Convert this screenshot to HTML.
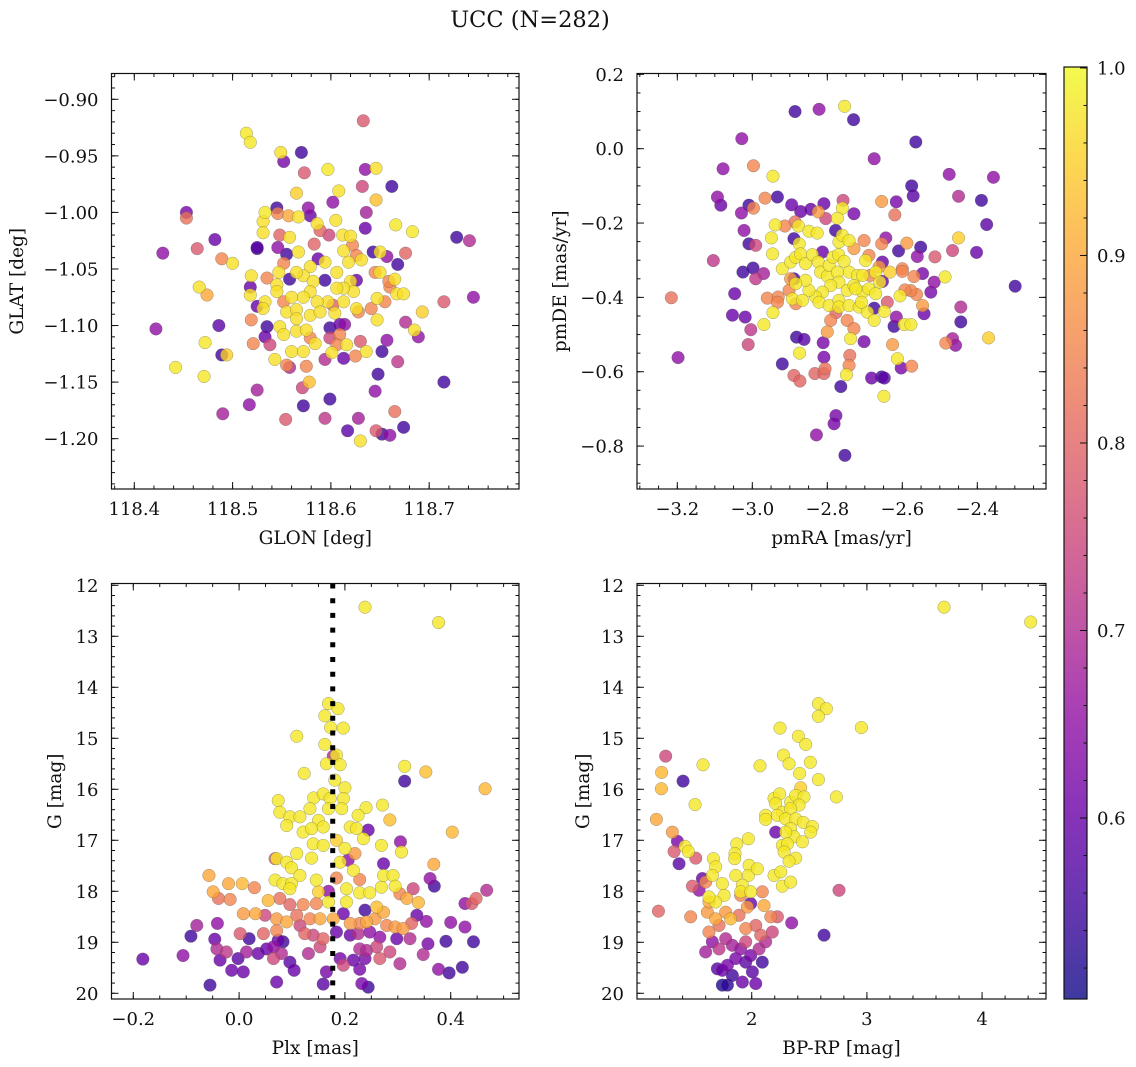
<!DOCTYPE html>
<html><head><meta charset="utf-8">
<style>
html,body{margin:0;padding:0;background:#fff;}
svg{display:block;font-family:"DejaVu Serif","Liberation Serif",serif;}
</style></head>
<body>
<svg id="chart" width="1136" height="1067" viewBox="0 0 1136 1067" xmlns="http://www.w3.org/2000/svg">
<rect width="1136" height="1067" fill="#fff"/>
<text x="530" y="27" text-anchor="middle" font-size="22.5" fill="#111">UCC (N=282)</text>
</svg>
<script>
// ---------------- data ----------------
// [GLON, GLAT, prob]
const posTL = [[118.633,-0.919,.78],[118.514,-0.930,.98],[118.518,-0.938,.98],[118.549,-0.947,.97],[118.570,-0.947,.55],[118.552,-0.955,.62],[118.573,-0.965,.78],[118.597,-0.962,.98],[118.635,-0.962,.65],[118.646,-0.961,.97],[118.632,-0.977,.75],[118.662,-0.977,.55],[118.565,-0.983,.95],[118.608,-0.981,.97],[118.602,-0.991,.65],[118.646,-0.989,.93],[118.453,-1.000,.62],[118.453,-1.005,.82],[118.545,-0.996,.55],[118.577,-0.996,.65],[118.636,-1.000,.68],[118.635,-1.014,.6],[118.666,-1.011,.98],[118.683,-1.017,.98],[118.728,-1.022,.55],[118.741,-1.025,.7],[118.429,-1.036,.65],[118.464,-1.032,.78],[118.482,-1.024,.6],[118.489,-1.041,.85],[118.500,-1.045,.97],[118.525,-1.031,.58],[118.466,-1.066,.97],[118.474,-1.073,.9],[118.422,-1.103,.65],[118.486,-1.100,.58],[118.472,-1.115,.98],[118.489,-1.126,.55],[118.494,-1.126,.95],[118.442,-1.137,.98],[118.471,-1.145,.98],[118.525,-1.157,.68],[118.517,-1.170,.65],[118.490,-1.178,.68],[118.554,-1.183,.78],[118.572,-1.171,.55],[118.599,-1.165,.55],[118.594,-1.182,.72],[118.571,-1.155,.75],[118.578,-1.150,.93],[118.628,-1.182,.68],[118.617,-1.193,.58],[118.630,-1.202,.97],[118.646,-1.193,.78],[118.652,-1.196,.55],[118.660,-1.197,.65],[118.674,-1.190,.55],[118.665,-1.176,.82],[118.645,-1.158,.65],[118.648,-1.143,.55],[118.715,-1.150,.55],[118.668,-1.132,.72],[118.652,-1.123,.55],[118.657,-1.113,.65],[118.715,-1.079,.78],[118.745,-1.075,.65],[118.693,-1.088,.95],[118.676,-1.097,.7],[118.685,-1.104,.97],[118.689,-1.110,.65],[118.676,-1.036,.8],[118.668,-1.046,.55],[118.657,-1.039,.65],
[118.533,-1.000,.98],[118.531,-1.008,.97],[118.546,-1.001,.85],[118.557,-1.003,.9],[118.567,-1.004,.97],[118.579,-1.003,.6],[118.586,-1.010,.97],[118.589,-1.016,.8],[118.598,-1.020,.75],[118.605,-1.007,.97],[118.612,-1.020,.97],[118.620,-1.021,.97],[118.622,-1.029,.85],[118.583,-1.028,.8],[118.567,-1.035,.97],[118.558,-1.022,.97],[118.548,-1.020,.8],[118.546,-1.031,.65],[118.555,-1.037,.55],[118.531,-1.018,.97],[118.525,-1.032,.55],[118.587,-1.041,.6],[118.594,-1.044,.97],[118.579,-1.048,.97],[118.572,-1.056,.97],[118.552,-1.045,.85],[118.547,-1.053,.97],[118.535,-1.058,.85],[118.519,-1.056,.97],[118.518,-1.066,.6],[118.518,-1.073,.97],[118.533,-1.079,.97],[118.531,-1.085,.97],[118.525,-1.083,.6],[118.545,-1.064,.97],[118.558,-1.059,.55],[118.565,-1.053,.97],[118.582,-1.061,.97],[118.594,-1.060,.55],[118.606,-1.053,.97],[118.618,-1.044,.97],[118.613,-1.034,.97],[118.626,-1.038,.85],[118.631,-1.042,.97],[118.643,-1.035,.55],[118.650,-1.035,.97],[118.650,-1.053,.97],[118.645,-1.053,.85],[118.626,-1.060,.6],[118.620,-1.061,.97],[118.623,-1.070,.97],[118.613,-1.067,.97],[118.606,-1.067,.97],[118.597,-1.079,.97],[118.586,-1.079,.97],[118.579,-1.070,.97],[118.572,-1.075,.97],[118.560,-1.075,.97],[118.552,-1.079,.85],[118.545,-1.070,.97],[118.555,-1.088,.97],[118.565,-1.086,.97],[118.565,-1.094,.97],[118.579,-1.091,.97],[118.589,-1.088,.97],[118.602,-1.082,.8],[118.604,-1.089,.97],[118.613,-1.079,.97],[118.626,-1.085,.97],[118.628,-1.088,.85],[118.641,-1.085,.85],[118.647,-1.095,.97],[118.647,-1.076,.97],[118.655,-1.079,.85],[118.660,-1.066,.85],[118.665,-1.059,.97],[118.667,-1.072,.97],[118.674,-1.072,.97],[118.659,-1.061,.85],[118.519,-1.095,.85],[118.535,-1.101,.55],[118.533,-1.110,.6],[118.521,-1.116,.85],[118.538,-1.117,.75],[118.548,-1.101,.97],[118.552,-1.108,.97],[118.565,-1.105,.97],[118.575,-1.104,.97],[118.579,-1.111,.85],[118.584,-1.116,.97],[118.599,-1.102,.55],[118.599,-1.111,.75],[118.609,-1.099,.6],[118.614,-1.099,.65],[118.609,-1.108,.85],[118.606,-1.117,.85],[118.616,-1.117,.97],[118.601,-1.124,.97],[118.613,-1.129,.6],[118.625,-1.127,.85],[118.630,-1.114,.78],[118.636,-1.123,.97],[118.560,-1.123,.97],[118.572,-1.123,.97],[118.543,-1.130,.97],[118.555,-1.135,.85],[118.558,-1.137,.7],[118.575,-1.136,.85],[118.594,-1.130,.7]];

// [pmRA, pmDE, prob]
const pmTR = [[-2.886,0.100,.55],[-2.822,0.106,.65],[-2.754,0.114,.98],[-2.730,0.078,.55],[-3.028,0.027,.65],[-2.564,0.018,.55],[-2.675,-0.027,.65],[-3.078,-0.054,.65],[-2.997,-0.046,.85],[-2.945,-0.074,.98],[-2.475,-0.069,.65],[-2.357,-0.077,.65],[-3.093,-0.130,.65],[-3.084,-0.152,.6],[-2.966,-0.133,.85],[-2.933,-0.130,.55],[-2.575,-0.100,.55],[-2.571,-0.127,.58],[-2.450,-0.128,.7],[-2.389,-0.139,.55],[-2.655,-0.142,.88],[-2.616,-0.143,.62],[-2.620,-0.178,.82],[-3.029,-0.173,.65],[-3.009,-0.152,.55],[-2.997,-0.160,.85],[-3.022,-0.220,.65],[-2.375,-0.204,.58],[-3.009,-0.256,.55],[-2.991,-0.260,.75],[-2.402,-0.279,.6],[-2.450,-0.240,.95],[-2.466,-0.274,.75],[-3.104,-0.301,.72],[-3.025,-0.332,.55],[-2.998,-0.321,.55],[-2.991,-0.350,.72],[-2.970,-0.336,.68],[-3.047,-0.390,.6],[-3.216,-0.401,.82],[-3.053,-0.448,.6],[-3.019,-0.453,.6],[-3.004,-0.487,.72],[-3.011,-0.527,.75],[-3.198,-0.562,.65],[-2.969,-0.473,.98],[-2.945,-0.441,.98],[-2.960,-0.402,.85],[-2.931,-0.399,.85],[-2.933,-0.413,.85],[-2.920,-0.579,.55],[-2.882,-0.507,.55],[-2.862,-0.513,.58],[-2.874,-0.550,.98],[-2.889,-0.610,.8],[-2.873,-0.625,.8],[-2.833,-0.605,.8],[-2.809,-0.605,.8],[-2.806,-0.592,.82],[-2.811,-0.522,.62],[-2.809,-0.561,.62],[-2.749,-0.608,.98],[-2.742,-0.583,.85],[-2.740,-0.556,.82],[-2.764,-0.640,.55],[-2.777,-0.718,.62],[-2.782,-0.740,.62],[-2.829,-0.770,.65],[-2.753,-0.825,.55],[-2.702,-0.519,.62],[-2.738,-0.511,.98],[-2.682,-0.617,.6],[-2.655,-0.614,.55],[-2.648,-0.617,.58],[-2.649,-0.666,.98],[-2.613,-0.565,.98],[-2.603,-0.590,.62],[-2.575,-0.585,.85],[-2.626,-0.527,.88],[-2.622,-0.478,.55],[-2.616,-0.453,.65],[-2.595,-0.473,.98],[-2.577,-0.473,.98],[-2.542,-0.444,.6],[-2.524,-0.386,.62],[-2.515,-0.359,.65],[-2.546,-0.422,.88],[-2.562,-0.392,.85],[-2.486,-0.345,.98],[-2.444,-0.426,.7],[-2.444,-0.466,.55],[-2.484,-0.523,.85],[-2.466,-0.511,.68],[-2.458,-0.529,.65],[-2.370,-0.509,.95],[-2.299,-0.370,.55],[-2.546,-0.336,.62],[-2.569,-0.344,.85],[-2.560,-0.290,.65],[-2.551,-0.265,.55],[-2.513,-0.291,.78],[-2.588,-0.254,.88],[-2.610,-0.275,.55],[-2.600,-0.323,.85],[-2.600,-0.330,.85],[-2.577,-0.382,.85],[-2.593,-0.380,.85],[-2.606,-0.396,.98],[-2.633,-0.332,.95],[-2.640,-0.413,.78],[-2.648,-0.438,.98],[-2.644,-0.240,.65],[-2.655,-0.256,.85],
[-2.939,-0.205,.98],[-2.949,-0.240,.98],[-2.946,-0.283,.98],[-2.920,-0.323,.98],[-2.898,-0.305,.98],[-2.884,-0.292,.98],[-2.877,-0.208,.98],[-2.875,-0.256,.98],[-2.871,-0.283,.98],[-2.858,-0.309,.98],[-2.849,-0.222,.98],[-2.827,-0.227,.98],[-2.840,-0.285,.98],[-2.824,-0.305,.98],[-2.818,-0.332,.98],[-2.800,-0.343,.98],[-2.795,-0.314,.98],[-2.785,-0.292,.98],[-2.770,-0.285,.98],[-2.769,-0.251,.98],[-2.760,-0.233,.98],[-2.742,-0.247,.98],[-2.755,-0.303,.98],[-2.742,-0.332,.98],[-2.720,-0.341,.98],[-2.706,-0.341,.98],[-2.698,-0.301,.98],[-2.773,-0.332,.98],[-2.769,-0.359,.98],[-2.791,-0.368,.98],[-2.813,-0.386,.98],[-2.831,-0.399,.98],[-2.849,-0.381,.98],[-2.858,-0.354,.98],[-2.884,-0.363,.98],[-2.893,-0.404,.98],[-2.866,-0.408,.98],[-2.822,-0.413,.98],[-2.795,-0.422,.98],[-2.769,-0.408,.98],[-2.747,-0.381,.98],[-2.729,-0.368,.98],[-2.706,-0.386,.98],[-2.689,-0.377,.98],[-2.671,-0.390,.98],[-2.671,-0.332,.98],[-2.660,-0.359,.98],[-2.769,-0.426,.98],[-2.742,-0.422,.98],[-2.715,-0.426,.98],[-2.693,-0.440,.98],[-2.675,-0.462,.98],[-2.709,-0.413,.98],[-2.724,-0.377,.98],
[-2.913,-0.208,.85],[-2.886,-0.197,.82],[-2.824,-0.170,.88],[-2.804,-0.188,.75],[-2.760,-0.160,.98],[-2.773,-0.187,.98],[-2.758,-0.139,.75],[-2.729,-0.175,.62],[-2.809,-0.148,.6],[-2.871,-0.169,.6],[-2.844,-0.163,.6],[-2.895,-0.151,.6],[-2.729,-0.269,.88],[-2.702,-0.247,.85],[-2.689,-0.287,.85],[-2.662,-0.318,.88],[-2.686,-0.341,.85],[-2.902,-0.381,.85],[-2.898,-0.350,.88],[-2.884,-0.417,.85],[-2.791,-0.462,.85],[-2.777,-0.441,.8],[-2.747,-0.462,.85],[-2.729,-0.484,.85],[-2.800,-0.493,.88],[-2.889,-0.350,.55],[-2.889,-0.242,.55],[-2.778,-0.220,.55],[-2.813,-0.278,.6],[-2.653,-0.305,.6],[-2.653,-0.357,.6],[-2.675,-0.429,.55]];

// [Plx, G, prob]
const plxBL = [[0.238,12.43,.98],[0.377,12.73,.98],[0.169,14.32,.98],[0.187,14.42,.98],[0.162,14.56,.98],[0.173,14.79,.98],[0.197,14.80,.98],[0.109,14.96,.98],[0.162,15.12,.98],[0.184,15.33,.98],[0.178,15.35,.7],[0.165,15.50,.98],[0.191,15.52,.98],[0.123,15.69,.98],[0.313,15.55,.98],[0.353,15.66,.93],[0.465,15.99,.92],[0.313,15.84,.55],[0.181,15.82,.98],[0.200,15.97,.98],[0.074,16.22,.98],[0.077,16.45,.98],[0.141,16.17,.98],[0.159,16.09,.98],[0.172,16.18,.98],[0.197,16.18,.98],[0.240,16.36,.98],[0.271,16.31,.98],[0.096,16.54,.98],[0.115,16.54,.98],[0.134,16.38,.98],[0.150,16.61,.98],[0.169,16.38,.98],[0.194,16.38,.98],[0.225,16.51,.98],[0.285,16.60,.93],[0.403,16.84,.92],[0.090,16.71,.98],[0.121,16.84,.98],[0.137,16.77,.98],[0.159,16.74,.98],[0.210,16.74,.98],[0.222,16.77,.98],[0.235,16.97,.98],[0.244,16.80,.6],[0.140,17.07,.98],[0.159,17.10,.98],[0.184,17.00,.95],[0.200,17.16,.98],[0.219,17.26,.88],[0.269,17.10,.98],[0.305,17.03,.65],[0.307,17.23,.98],[0.068,17.36,.78],[0.071,17.36,.98],[0.109,17.26,.98],[0.137,17.35,.98],[0.090,17.43,.98],[0.099,17.54,.98],[0.115,17.69,.98],[0.191,17.43,.98],[0.206,17.39,.65],[0.216,17.59,.98],[0.273,17.46,.6],[0.368,17.47,.9],[-0.057,17.69,.9],[-0.020,17.85,.9],[0.006,17.85,.92],[0.029,17.93,.85],[-0.049,18.01,.9],[-0.039,18.14,.82],[-0.017,18.16,.85],[0.068,17.78,.98],[0.083,17.85,.98],[0.099,17.85,.98],[0.096,17.95,.98],[0.146,17.78,.98],[0.150,18.01,.95],[0.184,17.74,.85],[0.203,17.95,.98],[0.228,17.77,.85],[0.228,18.03,.98],[0.247,18.03,.98],[0.269,17.92,.98],[0.273,17.69,.98],[0.291,17.69,.98],[0.295,17.90,.98],[0.361,17.75,.65],[0.369,17.90,.55],[0.329,17.95,.75],[0.468,17.98,.7],[0.055,18.18,.92],[0.077,18.14,.82],[0.096,18.26,.8],[0.121,18.26,.85],[0.146,18.24,.85],[0.169,18.21,.98],[0.169,18.00,.65],[0.203,18.21,.98],[0.238,18.37,.55],[0.260,18.31,.93],[0.273,18.41,.9],[0.304,18.05,.85],[0.317,18.14,.9],[0.339,18.22,.92],[0.427,18.24,.65],[0.440,18.24,.78],[0.448,18.14,.8],[0.008,18.44,.88],[0.031,18.44,.9],[0.049,18.47,.75],[0.071,18.54,.88],[0.090,18.60,.9],[0.109,18.47,.82],[0.134,18.54,.85],[0.153,18.54,.9],[0.178,18.54,.9],[0.197,18.44,.6],[0.210,18.63,.88],[0.228,18.63,.85],[0.241,18.60,.9],[0.257,18.54,.88],[0.279,18.67,.85],[0.295,18.70,.88],[0.310,18.73,.88],[0.326,18.63,.8],[0.336,18.47,.6],[0.354,18.59,.65],[0.400,18.61,.65],[0.427,18.70,.65],[-0.080,18.67,.68],[-0.041,18.63,.65],[-0.091,18.88,.55],[-0.046,18.94,.6],[0.002,18.83,.78],[0.019,18.93,.55],[0.046,18.83,.8],[0.071,18.77,.85],[0.083,18.99,.55],[0.115,18.67,.75],[0.124,18.83,.8],[0.140,18.86,.75],[0.159,18.93,.8],[0.184,18.80,.6],[0.210,18.86,.6],[0.225,18.83,.7],[0.247,18.80,.65],[0.266,18.90,.65],[0.298,18.93,.6],[0.323,18.93,.7],[0.357,19.03,.62],[0.391,18.98,.55],[0.443,18.99,.55],[-0.182,19.33,.6],[-0.106,19.26,.65],[-0.042,19.13,.7],[-0.024,19.19,.72],[-0.036,19.35,.6],[-0.002,19.32,.58],[0.014,19.19,.68],[0.036,19.22,.6],[0.052,19.13,.6],[0.065,19.09,.65],[0.074,18.96,.6],[0.065,19.32,.75],[0.080,19.22,.7],[0.096,19.39,.58],[0.131,19.22,.7],[0.153,19.09,.75],[0.191,19.32,.62],[0.197,19.45,.75],[0.216,19.35,.6],[0.228,19.13,.7],[0.238,19.32,.62],[0.241,19.16,.7],[0.260,19.09,.75],[0.266,19.32,.78],[0.285,19.19,.75],[0.304,19.42,.7],[0.348,19.24,.7],[-0.014,19.55,.6],[0.008,19.58,.6],[0.104,19.55,.6],[0.165,19.58,.62],[0.228,19.53,.62],[0.377,19.53,.65],[0.397,19.60,.55],[0.422,19.49,.55],[-0.055,19.84,.55],[0.071,19.78,.6],[0.159,19.82,.58],[0.232,19.81,.62],[0.244,19.88,.55]];

// [BP-RP, G, prob]
const cmdBR = [[3.670,12.43,.98],[4.422,12.72,.98],[2.579,14.32,.98],[2.648,14.42,.98],[2.579,14.57,.98],[2.246,14.80,.98],[2.952,14.79,.98],[2.405,14.96,.98],[2.469,15.12,.98],[2.275,15.33,.98],[2.324,15.50,.98],[2.509,15.47,.98],[2.072,15.54,.98],[2.416,15.69,.98],[2.579,15.81,.98],[1.577,15.52,.98],[1.508,16.30,.98],[2.735,16.15,.98],[1.253,15.35,.75],[1.218,15.67,.92],[1.216,15.99,.92],[1.404,15.84,.55],[1.172,16.59,.9],[1.311,16.84,.88],[1.355,17.02,.62],[1.326,17.22,.78],[1.369,17.46,.58],[1.421,17.12,.98],[1.450,17.22,.98],[1.514,17.35,.78],[1.485,17.90,.78],[1.190,18.39,.8],[1.470,18.50,.85],[2.758,17.98,.75],[2.347,18.62,.65],[2.628,18.86,.55],
[2.194,16.18,.98],[2.243,16.09,.98],[2.208,16.28,.98],[2.266,16.45,.98],[2.338,16.25,.98],[2.382,16.12,.98],[2.425,15.97,.95],[2.454,16.15,.98],[2.411,16.31,.98],[2.338,16.38,.98],[2.223,16.51,.98],[2.121,16.51,.98],[2.121,16.59,.98],[2.295,16.58,.98],[2.382,16.58,.98],[2.448,16.65,.98],[2.527,16.73,.98],[2.512,16.84,.98],[2.338,16.77,.98],[2.367,16.93,.98],[2.295,16.84,.98],[2.208,16.84,.6],[2.266,17.10,.98],[2.310,17.07,.98],[2.440,17.03,.98],[2.281,17.23,.98],[2.382,17.35,.98],[2.324,17.41,.98],[2.194,17.69,.98],[2.252,17.62,.98],[2.266,17.90,.98],[2.338,17.82,.98],
[1.870,17.07,.98],[1.855,17.26,.98],[1.852,17.36,.98],[1.971,16.97,.98],[1.977,17.49,.98],[1.971,17.69,.98],[2.049,17.56,.98],[1.667,17.36,.98],[1.687,17.52,.98],[1.658,17.69,.98],[1.861,17.69,.98],[1.919,17.88,.98],[1.745,17.85,.98],[1.760,18.08,.98],[1.687,18.21,.98],[1.629,18.11,.98],[1.904,18.01,.98],[1.991,18.01,.98],
[1.600,17.82,.85],[1.615,18.41,.88],[1.629,18.80,.85],[1.687,18.54,.9],[1.774,18.41,.88],[1.817,18.54,.92],[1.904,18.08,.85],[1.962,18.31,.88],[1.948,18.73,.85],[2.035,18.67,.8],[2.092,18.01,.85],[2.107,18.28,.9],[2.165,18.50,.85],[2.223,18.50,.78],[1.629,18.21,.9],[1.716,18.67,.82],[1.890,18.47,.82],[2.078,18.86,.8],
[1.600,19.19,.68],[1.658,18.99,.65],[1.716,19.13,.72],[1.774,18.93,.7],[1.832,19.06,.68],[1.861,19.32,.62],[1.904,19.13,.65],[1.948,18.99,.75],[1.991,19.26,.62],[2.064,19.13,.7],[2.121,18.99,.7],[2.179,18.80,.75],[1.702,19.52,.58],[1.745,19.55,.6],[1.789,19.45,.62],[1.832,19.65,.55],[1.919,19.78,.6],[2.006,19.58,.58],[2.035,19.81,.6],[2.092,19.39,.55],[1.745,19.84,.52],[1.789,19.84,.53],[1.948,19.39,.58],[1.572,17.75,.6],[1.543,17.98,.65],[1.991,18.24,.6]];

const plxRef = 0.177;

const tlXTicks = [118.4, 118.5, 118.6, 118.7];
const tlYTicks = [-0.90, -0.95, -1.00, -1.05, -1.10, -1.15, -1.20];
const trXTicks = [-3.2, -3.0, -2.8, -2.6, -2.4];
const trYTicks = [0.2, 0.0, -0.2, -0.4, -0.6, -0.8];
const blXTicks = [-0.2, 0.0, 0.2, 0.4];
const gTicks = [12, 13, 14, 15, 16, 17, 18, 19, 20];
const brXTicks = [2, 3, 4];
const cbTicks = [1.0, 0.9, 0.8, 0.7, 0.6];

// ---------------- helpers ----------------
const NS = 'http://www.w3.org/2000/svg';
const svg = document.getElementById('chart');
function mk(tag, attrs, parent) {
  const e = document.createElementNS(NS, tag);
  for (const k in attrs) e.setAttribute(k, attrs[k]);
  (parent || svg).appendChild(e);
  return e;
}
const PL = [[0,[13,8,135]],[0.1,[65,4,157]],[0.2,[106,0,168]],[0.3,[143,13,164]],[0.4,[177,42,144]],[0.5,[204,71,120]],[0.6,[225,100,98]],[0.7,[242,132,75]],[0.8,[252,166,54]],[0.9,[252,206,37]],[1,[240,249,33]]];
function plasma(t) {
  t = Math.max(0, Math.min(1, t));
  for (let i = 0; i < PL.length - 1; i++) {
    if (t <= PL[i+1][0]) {
      const f = (t - PL[i][0]) / (PL[i+1][0] - PL[i][0]);
      const a = PL[i][1], b = PL[i+1][1];
      return 'rgb(' + a.map((v, j) => Math.round(v + (b[j]-v)*f)).join(',') + ')';
    }
  }
  return 'rgb(240,249,33)';
}
const VMIN = 0.5035, VMAX = 1.0005;
function pcol(p) { return plasma((p - VMIN) / (VMAX - VMIN)); }
function fmt(v, d) { return v.toFixed(d).replace('-', '\u2212'); }

function panel(cfg) {
  const g = mk('g', {});
  
  
  const {l, r, t, b, x0, x1, y0, y1, inv} = cfg;
  const sx = v => l + (v - x0) / (x1 - x0) * (r - l);
  const sy = v => inv ? t + (v - y0) / (y1 - y0) * (b - t) : b - (v - y0) / (y1 - y0) * (b - t);
  cfg.sx = sx; cfg.sy = sy;
  // points, low prob first
  const pts = cfg.data.slice().sort((a, c) => a[2] - c[2]);
  const pg = mk('g', {}, g);
  
  
  pts.forEach(d => {
    const c = mk('circle', {cx: sx(d[0]), cy: sy(d[1]), r: 6.3, fill: pcol(d[2]), 'fill-opacity': 0.8, stroke: '#555', 'stroke-width': 0.5, 'stroke-opacity': 0.55}, pg);
    
    
  });
  if (cfg.extra) cfg.extra(g, sx, sy);
  // frame
  const fr = mk('rect', {x: l, y: t, width: r - l, height: b - t, fill: 'none', stroke: '#111', 'stroke-width': 1.2}, g);
  
  
  // minor ticks
  const tg = mk('g', {stroke: '#111', 'stroke-width': 1}, g);
  
  
  const xmin = Math.min(x0, x1), xmax = Math.max(x0, x1);
  for (let v = Math.ceil(xmin / cfg.xm) * cfg.xm; v <= xmax; v += cfg.xm) {
    const X = sx(v);
    mk('line', {x1: X, x2: X, y1: b, y2: b - 3.5}, tg);
    mk('line', {x1: X, x2: X, y1: t, y2: t + 3.5}, tg);
  }
  const ymin = Math.min(y0, y1), ymax = Math.max(y0, y1);
  for (let v = Math.ceil(ymin / cfg.ym - 1e-9) * cfg.ym; v <= ymax; v += cfg.ym) {
    const Y = sy(v);
    mk('line', {x1: l, x2: l + 3.5, y1: Y, y2: Y}, tg);
    mk('line', {x1: r, x2: r - 3.5, y1: Y, y2: Y}, tg);
  }
  cfg.xt.forEach(v => {
    const X = sx(v);
    mk('line', {x1: X, x2: X, y1: b, y2: b - 7}, tg);
    mk('line', {x1: X, x2: X, y1: t, y2: t + 7}, tg);
    const tx = mk('text', {x: X, y: b + 26, 'text-anchor': 'middle', 'font-size': 18, fill: '#111'}, g);
    tx.textContent = fmt(v, cfg.xd);
    
    
  });
  cfg.yt.forEach(v => {
    const Y = sy(v);
    mk('line', {x1: l, x2: l + 7, y1: Y, y2: Y}, tg);
    mk('line', {x1: r, x2: r - 7, y1: Y, y2: Y}, tg);
    const tx = mk('text', {x: l - 13, y: Y + 6.5, 'text-anchor': 'end', 'font-size': 18, fill: '#111'}, g);
    tx.textContent = fmt(v, cfg.yd);
    
    
  });
  const xl = mk('text', {x: (l + r) / 2, y: b + 55, 'text-anchor': 'middle', 'font-size': 18.5, fill: '#111'}, g);
  xl.textContent = cfg.xlabel;
  
  
  const yc = (t + b) / 2;
  const yl = mk('text', {x: cfg.ylx, y: yc, 'text-anchor': 'middle', 'font-size': 18.5, fill: '#111', transform: 'rotate(-90 ' + cfg.ylx + ' ' + yc + ')'}, g);
  yl.textContent = cfg.ylabel;
  
  
}

panel({name: 'glon-glat-panel', data: posTL, l: 111.5, r: 519, t: 73.5, b: 489, x0: 118.3768, x1: 118.7914, y0: -1.2445, y1: -0.8772, inv: false,
  xt: tlXTicks, yt: tlYTicks, xd: 1, yd: 2, xm: 0.02, ym: 0.01, xlabel: 'GLON [deg]', ylabel: 'GLAT [deg]', ylx: 23});
panel({name: 'pm-panel', data: pmTR, l: 637, r: 1046, t: 73.5, b: 489, x0: -3.3075, x1: -2.2168, y0: -0.9155, y1: 0.2023, inv: false,
  xt: trXTicks, yt: trYTicks, xd: 1, yd: 1, xm: 0.05, ym: 0.05, xlabel: 'pmRA [mas/yr]', ylabel: 'pmDE [mas/yr]', ylx: 566});
panel({name: 'plx-g-panel', data: plxBL, l: 111.5, r: 519, t: 583.5, b: 999, x0: -0.2412, x1: 0.5291, y0: 11.965, y1: 20.112, inv: true,
  xt: blXTicks, yt: gTicks, xd: 1, yd: 0, xm: 0.05, ym: 0.2, xlabel: 'Plx [mas]', ylabel: 'G [mag]', ylx: 61,
  extra: (g, sx, sy) => {
    const X = sx(plxRef);
    const ln = mk('line', {x1: X, x2: X, y1: 583.5, y2: 999, stroke: '#000', 'stroke-width': 5, 'stroke-dasharray': '5 9.7'}, g);
    
    
  }});
panel({name: 'cmd-panel', data: cmdBR, l: 637, r: 1046, t: 583.5, b: 999, x0: 1.004, x1: 4.555, y0: 11.965, y1: 20.112, inv: true,
  xt: brXTicks, yt: gTicks, xd: 0, yd: 0, xm: 0.2, ym: 0.2, xlabel: 'BP-RP [mag]', ylabel: 'G [mag]', ylx: 589});

// ---------------- colorbar ----------------
const cbL = 1064, cbR = 1087, cbT = 67, cbB = 999;
const defs = mk('defs', {});
const grad = mk('linearGradient', {id: 'cbg', x1: 0, y1: 1, x2: 0, y2: 0}, defs);
for (let i = 0; i <= 20; i++) {
  mk('stop', {offset: i / 20, 'stop-color': plasma(i / 20)}, grad);
}
const cbg = mk('g', {});


const cbr = mk('rect', {x: cbL, y: cbT, width: cbR - cbL, height: cbB - cbT, fill: 'url(#cbg)', 'fill-opacity': 0.8}, cbg);


mk('rect', {x: cbL, y: cbT, width: cbR - cbL, height: cbB - cbT, fill: 'none', stroke: '#111', 'stroke-width': 1.2}, cbg);
const cy = v => cbB - (v - VMIN) / (VMAX - VMIN) * (cbB - cbT);
for (let v = 0.52; v <= 1.0001; v += 0.02) {
  mk('line', {x1: cbR, x2: cbR - 3.5, y1: cy(v), y2: cy(v), stroke: '#111', 'stroke-width': 1}, cbg);
}
cbTicks.forEach(v => {
  mk('line', {x1: cbR, x2: cbR - 7, y1: cy(v), y2: cy(v), stroke: '#111', 'stroke-width': 1}, cbg);
  const tx = mk('text', {x: cbR + 10, y: cy(v) + 6.5, 'font-size': 18, fill: '#111'}, cbg);
  tx.textContent = v.toFixed(1);
  
  
});
</script>
</body></html>
